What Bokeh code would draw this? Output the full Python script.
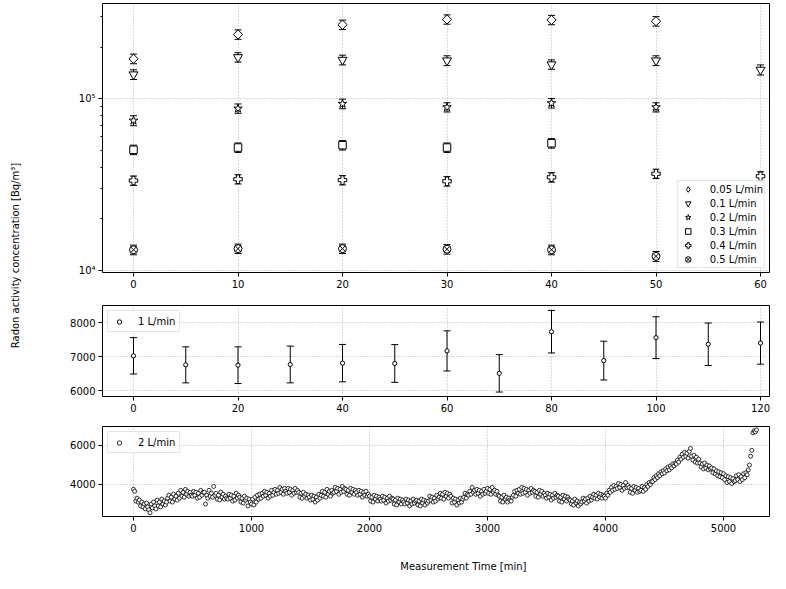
from math import pi
from bokeh.plotting import figure
from bokeh.models import (Range1d, FixedTicker, Legend, LegendItem, Label,
                          ColumnDataSource)
from bokeh.layouts import column, row
from bokeh.embed import file_html
from bokeh.resources import INLINE

FONT = "DejaVu Sans"

# ---------------- data: top panel (log scale) ----------------
t_top = [0, 10, 20, 30, 40, 50, 60]
c_005 = [171000, 237000, 270000, 290000, 288000, 283000]
e_005 = [11000, 15000, 17000, 18000, 18000, 18000]
c_01 = [138500, 174500, 168500, 167000, 158500, 167000, 147500]
e_01 = [9000, 11000, 11000, 11000, 10000, 11000, 10000]
c_02 = [74700, 87800, 93500, 89300, 94300, 89300]
e_02 = [5000, 5500, 6000, 5500, 6000, 5500]
c_03 = [50500, 52000, 53700, 52000, 55100]
e_03 = [3200, 3300, 3400, 3300, 3500]
c_04 = [33400, 34000, 33600, 33100, 34900, 36600, 35400]
e_04 = [2100, 2100, 2100, 2100, 2200, 2300, 2200]
c_05 = [13200, 13400, 13400, 13300, 13200, 12100]
e_05 = [850, 850, 850, 850, 850, 800]

# ---------------- data: middle panel (1 L/min) ----------------
t_1 = [0, 10, 20, 30, 40, 50, 60, 70, 80, 90, 100, 110, 120]
c_1 = [7020, 6755, 6745, 6765, 6805, 6795, 7165, 6505, 7730, 6880, 7555, 7360, 7395]
e_1 = [535, 530, 540, 540, 550, 555, 590, 550, 625, 570, 615, 625, 620]

# ---------------- data: bottom panel (2 L/min, every 10 min) ----------------
c_2 = [
    3750, 3650, 3150, 3300, 3100, 3200, 2900, 3100, 2850, 3000,
    2750, 3050, 2850, 2700, 2550, 3000, 2800, 3100, 2900, 2750,
    3200, 2900, 3100, 2850, 3250, 3000, 3150, 2950, 3100, 3300,
    3450, 3150, 3350, 3100, 3500, 3250, 3400, 3200, 3550, 3300,
    3700, 3400, 3600, 3350, 3750, 3500, 3650, 3400, 3600, 3450,
    3400, 3650, 3450, 3600, 3300, 3550, 3350, 3700, 3450, 3600,
    3600, 3000, 3450, 3300, 3700, 3400, 3550, 3350, 3900, 3450,
    3550, 3250, 3450, 3200, 3600, 3350, 3500, 3250, 3400, 3300,
    3250, 3500, 3300, 3450, 3150, 3400, 3200, 3550, 3300, 3450,
    3350, 3100, 3300, 3050, 3400, 3200, 3300, 2900, 3250, 3100,
    3000, 3250, 2950, 3350, 3100, 3450, 3250, 3500, 3300, 3550,
    3400, 3650, 3450, 3600, 3300, 3550, 3400, 3700, 3450, 3600,
    3750, 3500, 3700, 3550, 3850, 3600, 3750, 3500, 3800, 3650,
    3550, 3800, 3600, 3750, 3450, 3700, 3550, 3800, 3600, 3700,
    3600, 3350, 3550, 3300, 3600, 3400, 3500, 3300, 3450, 3350,
    3200, 3450, 3250, 3400, 3100, 3350, 3200, 3500, 3300, 3450,
    3650, 3400, 3600, 3350, 3750, 3500, 3650, 3400, 3700, 3550,
    3600, 3850, 3650, 3800, 3500, 3750, 3600, 3900, 3650, 3800,
    3750, 3500, 3700, 3450, 3800, 3600, 3750, 3500, 3700, 3600,
    3450, 3700, 3500, 3650, 3350, 3600, 3450, 3650, 3400, 3500,
    3400, 3150, 3350, 3100, 3450, 3250, 3400, 3150, 3350, 3250,
    3150, 3400, 3200, 3350, 3050, 3300, 3150, 3400, 3200, 3300,
    3250, 3000, 3200, 2950, 3300, 3100, 3250, 3000, 3200, 3100,
    3000, 3250, 3050, 3200, 2900, 3150, 3000, 3250, 3050, 3150,
    3200, 2950, 3150, 2900, 3250, 3050, 3200, 2950, 3150, 3050,
    3150, 3400, 3200, 3350, 3100, 3300, 3150, 3450, 3250, 3350,
    3550, 3300, 3500, 3250, 3600, 3400, 3550, 3300, 3500, 3400,
    3050, 3300, 3100, 3250, 2950, 3200, 3050, 3300, 3100, 3250,
    3350, 3550, 3300, 3500, 3450, 3650, 3500, 3850, 3600, 3700,
    3500, 3750, 3550, 3700, 3400, 3650, 3500, 3750, 3550, 3650,
    3800, 3550, 3750, 3500, 3850, 3600, 3700, 3500, 3650, 3450,
    3400, 3150, 3350, 3100, 3450, 3250, 3350, 3100, 3300, 3200,
    3150, 3350, 3450, 3650, 3400, 3700, 3550, 3750, 3500, 3850,
    3550, 3800, 3600, 3750, 3450, 3700, 3550, 3800, 3600, 3700,
    3650, 3400, 3600, 3350, 3700, 3500, 3650, 3400, 3550, 3450,
    3300, 3550, 3350, 3500, 3200, 3450, 3300, 3550, 3350, 3450,
    3400, 3150, 3350, 3100, 3450, 3250, 3400, 3150, 3350, 3250,
    3200, 3000, 3150, 2950, 3250, 3050, 3150, 2900, 3100, 3000,
    3100, 3300, 3150, 3250, 3050, 3300, 3150, 3400, 3200, 3350,
    3500, 3300, 3450, 3250, 3550, 3350, 3500, 3300, 3450, 3400,
    3300, 3550, 3450, 3700, 3600, 3850, 3700, 3950, 3750, 3900,
    3800, 4050, 3850, 4000, 3700, 3950, 3800, 4100, 3850, 3950,
    3850, 3600, 3800, 3550, 3900, 3700, 3850, 3600, 3800, 3650,
    3700, 3900, 3650, 3850, 3750, 4000, 3900, 4100, 4000, 4150,
    4150, 4350, 4250, 4450, 4350, 4550, 4450, 4650, 4550, 4700,
    4600, 4800, 4700, 4900, 4750, 4950, 4850, 5050, 4950, 5100,
    5050, 5250, 5150, 5400, 5300, 5550, 5400, 5650, 5450, 5600,
    5350, 5700, 5850, 5450, 5250, 5500, 5150, 5400, 5100, 5300,
    5100, 4900, 5050, 4800, 5100, 4850, 5000, 4750, 4950, 4800,
    4850, 4600, 4800, 4550, 4700, 4450, 4650, 4400, 4600, 4350,
    4550, 4250, 4450, 4100, 4400, 4150, 4350, 4050, 4300, 4150,
    4200, 4450, 4250, 4500, 4150, 4400, 4250, 4550, 4350, 4600,
    4500, 4750, 5000, 5450, 5750, 6650, 6750, 6700, 6800,
]
t_2 = list(range(0, 10 * len(c_2), 10))

top_xticks = [0, 10, 20, 30, 40, 50, 60]
top_yticks = [10000, 100000]
top_yminor = [20000, 30000, 40000, 50000, 60000, 70000, 80000, 90000, 200000, 300000]
mid_xticks = [0, 20, 40, 60, 80, 100, 120]
mid_yticks = [6000, 7000, 8000]
bot_xticks = [0, 1000, 2000, 3000, 4000, 5000]
bot_yticks = [4000, 6000]

# ---------------- layout constants (pixels) ----------------
LEFT_W = 40
FRAME_W = 667
MB_LEFT = 62
TOTAL_H = 573
FRAME_LEFT_OFFSET = 31  # distance from frame left edge to x = 0


def style(p, xt, yt, yminor=None):
    p.outline_line_color = "black"
    p.outline_line_width = 1
    p.xaxis.ticker = FixedTicker(ticks=xt)
    p.yaxis.ticker = FixedTicker(ticks=yt, minor_ticks=yminor or [])
    for ax in (p.xaxis[0], p.yaxis[0]):
        ax.axis_line_color = None
        ax.major_tick_line_color = "black"
        ax.major_tick_line_width = 1
        ax.major_tick_out = 4
        ax.major_tick_in = 0
        ax.minor_tick_line_color = "black"
        ax.minor_tick_out = 2
        ax.minor_tick_in = 0
        ax.major_label_text_font = FONT
        ax.major_label_text_font_size = "10px"
        ax.major_label_text_color = "black"
        ax.major_label_standoff = 3
    for g in (p.xgrid[0], p.ygrid[0]):
        g.grid_line_color = "#a0a0a0"
        g.grid_line_width = 0.8
        g.grid_line_dash = "1 2"
    p.xgrid.ticker = FixedTicker(ticks=xt)
    p.ygrid.ticker = FixedTicker(ticks=yt)


def errorbar(p, x, y, e, marker, size, angle=0.0, cap=7, lw=1.0):
    n = len(y)
    lo = [a - b for a, b in zip(y, e)]
    hi = [a + b for a, b in zip(y, e)]
    src = ColumnDataSource(dict(x=x[:n], y=y, lo=lo, hi=hi))
    p.segment(x0="x", y0="lo", x1="x", y1="hi", source=src,
              line_color="black", line_width=1)
    p.scatter("x", "lo", source=src, marker="dash", size=cap,
              line_color="black", line_width=1)
    p.scatter("x", "hi", source=src, marker="dash", size=cap,
              line_color="black", line_width=1)
    mk = p.scatter("x", "y", source=src, marker=marker, size=size, angle=angle,
                   fill_color="white", line_color="black", line_width=lw)
    return mk, src


def legend_style(leg, gw, gh, lh, pad, standoff, spacing):
    leg.label_text_font = FONT
    leg.label_text_font_size = "10px"
    leg.label_text_color = "black"
    leg.border_line_color = "#cccccc"
    leg.border_line_width = 1
    leg.background_fill_color = "white"
    leg.background_fill_alpha = 0.8
    leg.spacing = spacing
    leg.padding = pad
    leg.glyph_width = gw
    leg.glyph_height = gh
    leg.label_height = lh
    leg.label_standoff = standoff


# ---------------- top panel ----------------
x0_top = -FRAME_LEFT_OFFSET / 10.45
p1 = figure(x_range=Range1d(x0_top, x0_top + FRAME_W / 10.45),
            y_range=Range1d(9735, 358900), y_axis_type="log",
            frame_width=FRAME_W, frame_height=269,
            min_border_left=MB_LEFT, min_border_right=1, min_border_top=3,
            min_border_bottom=22, toolbar_location=None, output_backend="svg")
style(p1, top_xticks, top_yticks, top_yminor)
p1.yaxis.major_label_overrides = {10000: "10⁴", 100000: "10⁵"}

r005, s005 = errorbar(p1, t_top, c_005, e_005, "square", 6.5, angle=pi / 4)
r01, _ = errorbar(p1, t_top, c_01, e_01, "inverted_triangle", 9)
r02, _ = errorbar(p1, t_top, c_02, e_02, "star", 9)
r03, _ = errorbar(p1, t_top, c_03, e_03, "square", 7.5)
r04, _ = errorbar(p1, t_top, c_04, e_04, "plus", 8.5)
r05, _ = errorbar(p1, t_top, c_05, e_05, "circle_x", 8)
# diamond proxy used only for the legend swatch (zero size on the plot)
r005_leg = p1.scatter("x", "y", source=s005, marker="diamond", size=0,
                      fill_color="white", line_color="black", line_width=1)

leg1 = Legend(items=[
    LegendItem(label="0.05 L/min", renderers=[r005_leg]),
    LegendItem(label="0.1 L/min", renderers=[r01]),
    LegendItem(label="0.2 L/min", renderers=[r02]),
    LegendItem(label="0.3 L/min", renderers=[r03]),
    LegendItem(label="0.4 L/min", renderers=[r04]),
    LegendItem(label="0.5 L/min", renderers=[r05]),
], location="bottom_right", margin=4)
legend_style(leg1, gw=18, gh=14, lh=14, pad=1, standoff=13, spacing=0)
p1.add_layout(leg1)

# ---------------- middle panel ----------------
x0_mid = -FRAME_LEFT_OFFSET / 5.225
p2 = figure(x_range=Range1d(x0_mid, x0_mid + FRAME_W / 5.225),
            y_range=Range1d(5824, 8500),
            frame_width=FRAME_W, frame_height=91,
            min_border_left=MB_LEFT, min_border_right=1, min_border_top=11,
            min_border_bottom=20, toolbar_location=None, output_backend="svg")
style(p2, mid_xticks, mid_yticks)
r1, _ = errorbar(p2, t_1, c_1, e_1, "circle", 4.2, cap=7)
leg2 = Legend(items=[LegendItem(label="1 L/min", renderers=[r1])],
              location="top_left", margin=5)
legend_style(leg2, gw=14, gh=11, lh=12, pad=4, standoff=12, spacing=0)
p2.add_layout(leg2)

# ---------------- bottom panel ----------------
x0_bot = -FRAME_LEFT_OFFSET / 0.118
p3 = figure(x_range=Range1d(x0_bot, x0_bot + FRAME_W / 0.118),
            y_range=Range1d(2359, 6974),
            frame_width=FRAME_W, frame_height=90,
            min_border_left=MB_LEFT, min_border_right=1, min_border_top=10,
            min_border_bottom=22, toolbar_location=None, output_backend="svg")
style(p3, bot_xticks, bot_yticks)
r2 = p3.scatter(t_2, c_2, marker="circle", size=4, fill_color="white",
                line_color="black", line_width=0.8)
leg3 = Legend(items=[LegendItem(label="2 L/min", renderers=[r2])],
              location="top_left", margin=5)
legend_style(leg3, gw=14, gh=11, lh=12, pad=4, standoff=12, spacing=0)
p3.add_layout(leg3)

# ---------------- shared axis labels ----------------
ylab = figure(width=LEFT_W, height=TOTAL_H, x_range=Range1d(0, LEFT_W),
              y_range=Range1d(0, TOTAL_H), x_axis_type=None, y_axis_type=None,
              min_border=0, outline_line_color=None, toolbar_location=None,
              output_backend="svg")
ylab.add_layout(Label(x=15, y=TOTAL_H - 255, text="Radon activity concentration [Bq/m³]",
                      angle=pi / 2, text_align="center", text_baseline="middle",
                      text_font=FONT, text_font_size="10px", text_color="black"))

used_h = (3 + 269 + 22) + (11 + 91 + 20) + (10 + 90 + 22)
XL_H = TOTAL_H - used_h
xlab = figure(width=MB_LEFT + FRAME_W + 1, height=XL_H,
              x_range=Range1d(0, MB_LEFT + FRAME_W + 1), y_range=Range1d(0, XL_H),
              x_axis_type=None, y_axis_type=None, min_border=0,
              outline_line_color=None, toolbar_location=None, output_backend="svg")
xlab.add_layout(Label(x=435 - LEFT_W, y=7, text="Measurement Time [min]",
                      text_align="center", text_baseline="middle",
                      text_font=FONT, text_font_size="10px", text_color="black"))

layout = row(ylab, column(p1, p2, p3, xlab))

open("out.html", "w").write(file_html(layout, INLINE))
